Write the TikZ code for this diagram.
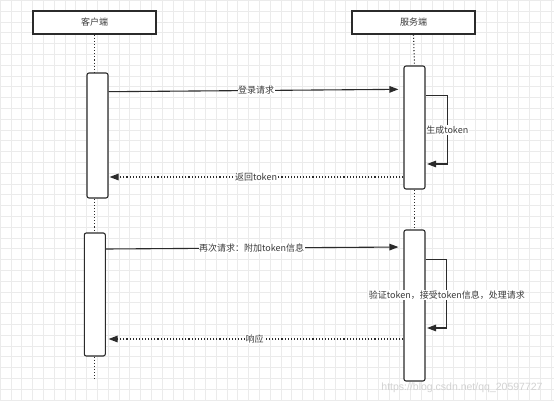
\documentclass[tikz,border=0pt]{standalone}
\usepackage{fontspec}
\setmainfont{Noto Sans CJK SC}
\newfontfamily\wmfont{Liberation Sans}
\usetikzlibrary{arrows.meta}
\definecolor{gridc}{HTML}{EBEBEB}
\definecolor{linec}{HTML}{2B2B2B}
\definecolor{txtc}{HTML}{3A3A3A}
\definecolor{wmc}{HTML}{D2D2D2}
\tikzset{
  hdr/.style={draw=linec, line width=1.3pt, fill=white, minimum width=123pt, minimum height=23pt, inner sep=0pt, font=\fontsize{9}{10}\selectfont, text=txtc},
  actbox/.style={draw=linec, line width=1.1pt, fill=white, rounded corners=2pt, minimum width=21pt, inner sep=0pt},
  lbl/.style={fill=white, inner sep=0.5pt, font=\fontsize{9}{10}\selectfont, text=txtc},
  msg/.style={draw=linec, line width=1.1pt, -{Triangle[length=9pt,width=6.5pt]}},
  retmsg/.style={msg, dotted},
  life/.style={draw=linec, line width=1.1pt, dotted}
}
\begin{document}
\begin{tikzpicture}[x=1pt,y=-1pt]
\useasboundingbox (0,0) rectangle (554,401);
\fill[white] (0,0) rectangle (554,401);
% grid
\foreach \i in {0,...,51} {\draw[gridc, line width=0.6pt] (10.8*\i,0) -- (10.8*\i,401);}
\foreach \j in {0,...,37} {\draw[gridc, line width=0.6pt] (0,10.8*\j+0.3) -- (554,10.8*\j+0.3);}
% headers
\node[hdr] (ch) at (94.5,22.5) {客户端};
\node[hdr] (sh) at (413.5,22.5) {服务端};
% activations
\node[actbox, minimum height=125pt] (ca1) at (97.5,135.5) {};
\node[actbox, minimum height=123pt] (sa1) at (414.5,127.5) {};
\node[actbox, minimum height=123pt] (ca2) at (94.8,294.5) {};
\node[actbox, minimum height=151pt] (sa2) at (414.5,305.5) {};
\coordinate (cend) at (94.8,379);
% lifelines
\draw[life] (ch.south) -- (ch.south |- ca1.north);
\draw[life] (ca2.north |- ca1.south) -- (ca2.north);
\draw[life] (ca2.south) -- (cend);
\draw[life] (sh.south) -- (sa1.north);
\draw[life] (sa1.south) -- (sa2.north);
% messages
\draw[msg, shorten >=5pt] (ca1.east |- 0,91.7) -- (sa1.west |- 0,89.3) node[lbl, midway] {登录请求};
\draw[msg, shorten >=1.5pt] (sa1.east |- 0,95.7) -- ++(21.7,0) -- ++(0,68.3) node[lbl, midway] {生成token} -- (sa1.east |- 0,164);
\draw[retmsg, shorten >=1pt] (sa1.west |- 0,177) -- (ca1.east |- 0,177) node[lbl, pos=0.5] {返回token};
\draw[msg, shorten >=5pt] (ca2.east |- 0,249) -- (sa2.west |- 0,247) node[lbl, pos=0.49] {再次请求：附加token信息};
\draw[msg, shorten >=1.5pt] (sa2.east |- 0,259.3) -- ++(21.3,0) -- ++(0,68.7) node[lbl, pos=0.52] {验证token，接受token信息，处理请求} -- (sa2.east |- 0,328);
\draw[retmsg, shorten >=2.7pt] (sa2.west |- 0,339) -- (ca2.east |- 0,339) node[lbl, pos=0.5] {响应};
% watermark
\node[text=wmc, font=\wmfont\fontsize{10.5}{12}\selectfont, inner sep=0pt] (wm) at (462,388) {https://blog.csdn.net/qq\_20597727};
\end{tikzpicture}
\end{document}
